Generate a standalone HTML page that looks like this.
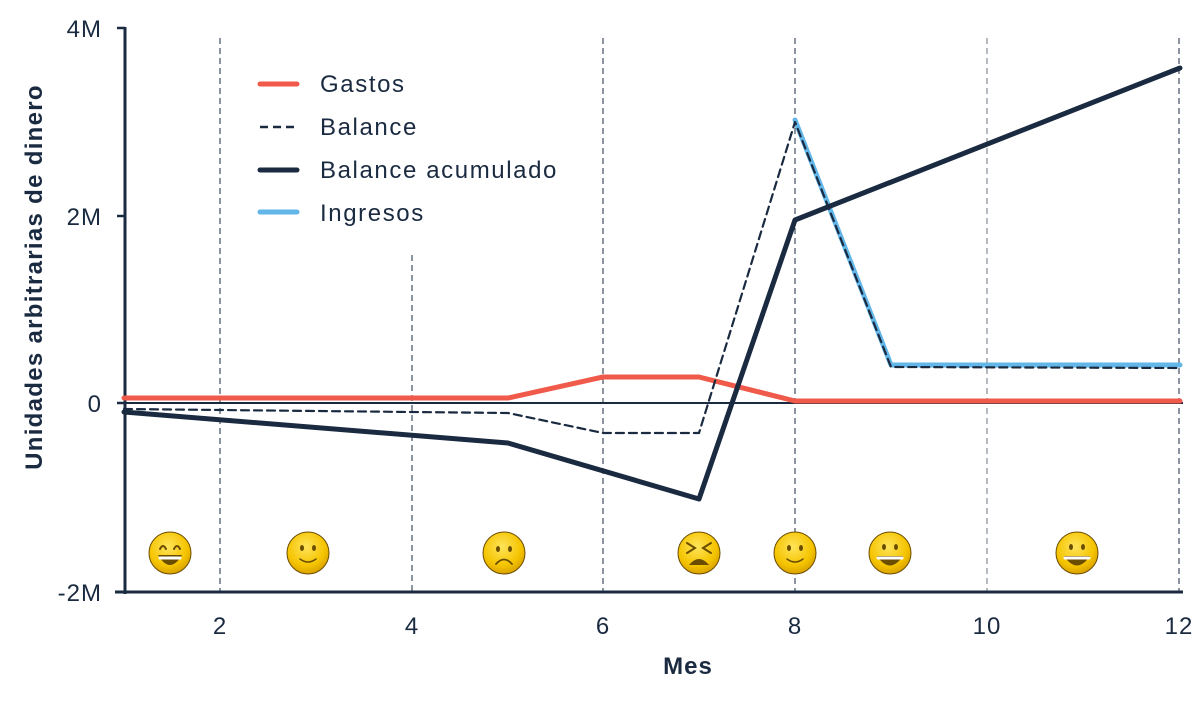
<!DOCTYPE html>
<html><head><meta charset="utf-8"><style>
body{margin:0;background:#fff}
svg{display:block;font-family:"Liberation Sans",sans-serif}
</style></head><body>
<svg width="1200" height="707" viewBox="0 0 1200 707">
<defs>
<radialGradient id="yg" cx="45%" cy="35%" r="65%">
<stop offset="0" stop-color="#ffe45a"/><stop offset="0.7" stop-color="#f5c400"/><stop offset="1" stop-color="#d9a200"/>
</radialGradient>
<g id="face"><circle r="21" fill="url(#yg)"/></g>
</defs>
<g stroke="#1a2a40" stroke-width="1" stroke-dasharray="6,4">
<line x1="220" y1="38" x2="220" y2="592"/>
<line x1="412" y1="255" x2="412" y2="592"/>
<line x1="603" y1="38" x2="603" y2="592"/>
<line x1="795" y1="38" x2="795" y2="592"/>
<line x1="987" y1="38" x2="987" y2="592" stroke="#6a7482"/>
<line x1="1179" y1="38" x2="1179" y2="592"/>
</g>
<line x1="125" y1="403" x2="1183" y2="403" stroke="#1a2a40" stroke-width="2"/>
<line x1="125" y1="27" x2="125" y2="594" stroke="#1a2a40" stroke-width="3"/>
<line x1="115" y1="592" x2="1183" y2="592" stroke="#1a2a40" stroke-width="3"/>
<g stroke="#1a2a40" stroke-width="2.5">
<line x1="117" y1="28" x2="125" y2="28"/><line x1="117" y1="216" x2="125" y2="216"/>
<line x1="117" y1="403" x2="125" y2="403"/><line x1="117" y1="592" x2="125" y2="592"/>
</g>
<g font-size="24" fill="#1a2a40" text-anchor="end" letter-spacing="1">
<text x="102" y="37">4M</text><text x="102" y="225">2M</text><text x="102" y="412">0</text><text x="102" y="601">-2M</text>
</g>
<g font-size="24" fill="#1a2a40" text-anchor="middle" letter-spacing="1">
<text x="220" y="634">2</text><text x="412" y="634">4</text><text x="603" y="634">6</text>
<text x="795" y="634">8</text><text x="987" y="634">10</text><text x="1179" y="634">12</text>
<text x="688" y="674" font-weight="bold">Mes</text>
</g>
<text transform="translate(42,277) rotate(-90)" font-size="24" font-weight="bold" fill="#1a2a40" text-anchor="middle" letter-spacing="1.3">Unidades arbitrarias de dinero</text>
<g fill="none" stroke-linejoin="round" stroke-linecap="round">
<polyline points="124,398 508,398 603,377 699,377 795,401 1180,401" stroke="#f05a4a" stroke-width="5"/>
<polyline points="795,120 891,365 1180,365" stroke="#62b6e8" stroke-width="5"/>
<polyline points="124,409 508,413 603,433 699,433 795,122 891,367 1180,368" stroke="#1a2a40" stroke-width="2.2" stroke-dasharray="8,5"/>
<polyline points="124,412 508,443 699,499 795,220 1180,68" stroke="#1a2a40" stroke-width="5"/>
</g>
<g font-size="24" fill="#1a2a40" letter-spacing="1.6">
<line x1="260" y1="84" x2="297" y2="84" stroke="#f05a4a" stroke-width="5" stroke-linecap="round"/>
<line x1="260" y1="127" x2="297" y2="127" stroke="#1a2a40" stroke-width="2.5" stroke-dasharray="8,5"/>
<line x1="260" y1="170" x2="297" y2="170" stroke="#1a2a40" stroke-width="5" stroke-linecap="round"/>
<line x1="260" y1="212" x2="297" y2="212" stroke="#62b6e8" stroke-width="5" stroke-linecap="round"/>
<text x="320" y="92">Gastos</text><text x="320" y="135">Balance</text>
<text x="320" y="178">Balance acumulado</text><text x="320" y="221">Ingresos</text>
</g>
<g fill="#6b4d00" stroke="#6b4d00" stroke-linecap="round">
<g transform="translate(170,553)"><use href="#face"/><path d="M-12,2 Q0,22 12,2 Z" stroke="none"/><path d="M-10,5 L10,5" stroke="#fff" stroke-width="3"/><path d="M-10,-4 Q-7,-10 -4,-4 M4,-4 Q7,-10 10,-4" fill="none" stroke-width="2"/></g>
<g transform="translate(308,553)"><use href="#face"/><ellipse cx="-6" cy="-5" rx="2" ry="3" stroke="none"/><ellipse cx="6" cy="-5" rx="2" ry="3" stroke="none"/><path d="M-8,6 Q0,12 8,6" fill="none" stroke-width="1.5"/></g>
<g transform="translate(504,553)"><use href="#face"/><ellipse cx="-6" cy="-4" rx="2" ry="3" stroke="none"/><ellipse cx="6" cy="-4" rx="2" ry="3" stroke="none"/><path d="M-8,11 Q0,2 8,11" fill="none" stroke-width="1.8"/></g>
<g transform="translate(699,553)"><use href="#face"/><path d="M-12,-10 L-4,-5 L-12,0 M12,-10 L4,-5 L12,0" fill="none" stroke-width="2"/><path d="M-10,12 Q0,0 10,12 Z" stroke="none"/></g>
<g transform="translate(795,553)"><use href="#face"/><ellipse cx="-6" cy="-5" rx="2" ry="3" stroke="none"/><ellipse cx="6" cy="-5" rx="2" ry="3" stroke="none"/><path d="M-8,6 Q0,12 8,6" fill="none" stroke-width="1.5"/></g>
<g transform="translate(890,553)"><use href="#face"/><ellipse cx="-6" cy="-6" rx="2" ry="3" stroke="none"/><ellipse cx="6" cy="-6" rx="2" ry="3" stroke="none"/><path d="M-13,3 Q0,22 13,3 Z" stroke="none"/><path d="M-12,5 L12,5" stroke="#fff" stroke-width="3"/></g>
<g transform="translate(1077,553)"><use href="#face"/><ellipse cx="-6" cy="-6" rx="2" ry="3" stroke="none"/><ellipse cx="6" cy="-6" rx="2" ry="3" stroke="none"/><path d="M-13,3 Q0,22 13,3 Z" stroke="none"/><path d="M-12,5 L12,5" stroke="#fff" stroke-width="3"/></g>
</g>
</svg>
</body></html>
